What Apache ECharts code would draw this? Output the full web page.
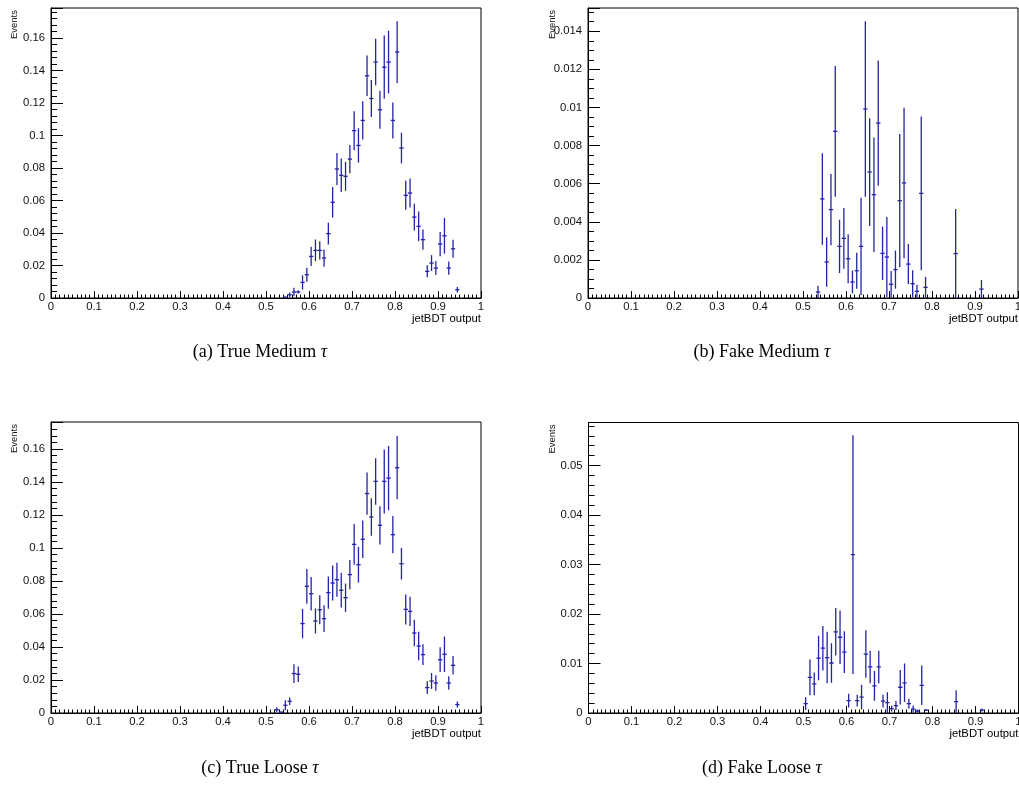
<!DOCTYPE html>
<html>
<head>
<meta charset="utf-8">
<title>jetBDT output</title>
<script src="https://cdn.jsdelivr.net/npm/echarts@6/dist/echarts.min.js"></script>
<style>
  html, body { margin: 0; padding: 0; background: #fff; overflow: hidden; }
  #chart { width: 1019px; height: 798px; }
</style>
</head>
<body>
<div id="chart"></div>
<script>
// Bin width of the jetBDT histograms
const BIN_WIDTH = 0.01;

// x-axis tick labels
const xTicks = ['0', '0.1', '0.2', '0.3', '0.4', '0.5', '0.6', '0.7', '0.8', '0.9', '1'];

// (a) True Medium tau
const trueMediumCenters = [0.545, 0.555, 0.565, 0.575, 0.585, 0.595, 0.605, 0.615, 0.625, 0.635,
  0.645, 0.655, 0.665, 0.675, 0.685, 0.695, 0.705, 0.715, 0.725, 0.735,
  0.745, 0.755, 0.765, 0.775, 0.785, 0.795, 0.805, 0.815, 0.825, 0.835,
  0.845, 0.855, 0.865, 0.875, 0.885, 0.895, 0.905, 0.915, 0.925, 0.935, 0.945];
const trueMediumValues = [0.0005, 0.002, 0.0037, 0.0037, 0.0096, 0.0143, 0.0256, 0.0293, 0.0293, 0.0246,
  0.0396, 0.0589, 0.0794, 0.0755, 0.0749, 0.0855, 0.103, 0.0939, 0.1093, 0.1368,
  0.1228, 0.1452, 0.1159, 0.1421, 0.1452, 0.1093, 0.1514, 0.0923, 0.0632, 0.0646,
  0.0498, 0.0441, 0.0359, 0.0164, 0.0215, 0.0184, 0.0332, 0.0383, 0.0184, 0.0303, 0.0051];
const trueMediumErrors = [0.0003, 0.0014, 0.0026, 0.001, 0.0044, 0.0043, 0.0059, 0.0067, 0.0056, 0.0053,
  0.0067, 0.0094, 0.0099, 0.0103, 0.0089, 0.0087, 0.012, 0.0106, 0.0118, 0.0124,
  0.0114, 0.0143, 0.0117, 0.0194, 0.0193, 0.0111, 0.019, 0.0094, 0.0089, 0.0089,
  0.0082, 0.0092, 0.0062, 0.0037, 0.0049, 0.0043, 0.0075, 0.011, 0.0041, 0.0056, 0.0017];

// (b) Fake Medium tau
const fakeMediumCenters = [0.535, 0.545, 0.555, 0.565, 0.575, 0.585, 0.595, 0.605, 0.615, 0.625,
  0.635, 0.645, 0.655, 0.665, 0.675, 0.685, 0.695, 0.705, 0.715, 0.725,
  0.735, 0.745, 0.755, 0.765, 0.775, 0.785, 0.855, 0.915];
const fakeMediumValues = [0.00031, 0.0052, 0.00189, 0.00464, 0.00875, 0.00271, 0.00313, 0.00206, 0.00084, 0.00143,
  0.00271, 0.00992, 0.00661, 0.00542, 0.00918, 0.00234, 0.00215, 0.00072, 0.00149, 0.00511,
  0.00604, 0.00178, 0.00075, 0.00035, 0.00549, 0.00056, 0.00233, 0.00047];
const fakeMediumErrors = [0.00033, 0.0024, 0.0013, 0.00187, 0.00343, 0.0014, 0.0016, 0.00128, 0.0006, 0.00094,
  0.00255, 0.0046, 0.00283, 0.003, 0.00329, 0.0014, 0.0021, 0.0007, 0.001, 0.0035,
  0.00395, 0.00105, 0.0007, 0.00035, 0.00403, 0.00055, 0.00234, 0.00047];

// (c) True Loose tau
const trueLooseCenters = [0.525, 0.535, 0.545, 0.555, 0.565, 0.575, 0.585, 0.595, 0.605, 0.615,
  0.625, 0.635, 0.645, 0.655, 0.665, 0.675, 0.685, 0.695, 0.705, 0.715,
  0.725, 0.735, 0.745, 0.755, 0.765, 0.775, 0.785, 0.795, 0.805, 0.815,
  0.825, 0.835, 0.845, 0.855, 0.865, 0.875, 0.885, 0.895, 0.905, 0.915,
  0.925, 0.935, 0.945];
const trueLooseValues = [0.002, 0.0005, 0.0047, 0.0071, 0.0239, 0.0235, 0.0542, 0.0768, 0.0723, 0.0558,
  0.0626, 0.0572, 0.073, 0.0788, 0.0808, 0.0744, 0.0699, 0.0839, 0.1022, 0.0899,
  0.1053, 0.133, 0.1188, 0.1404, 0.1138, 0.1404, 0.1424, 0.1081, 0.1487, 0.0905,
  0.0628, 0.0616, 0.0485, 0.0406, 0.0354, 0.0154, 0.0194, 0.0182, 0.0323, 0.0356,
  0.0182, 0.0289, 0.0051];
const trueLooseErrors = [0.0015, 0.0004, 0.003, 0.0023, 0.0057, 0.0047, 0.0089, 0.0105, 0.0101, 0.0076,
  0.0088, 0.0081, 0.0098, 0.0106, 0.0103, 0.0105, 0.0086, 0.0089, 0.0124, 0.0108,
  0.0114, 0.0128, 0.0114, 0.0141, 0.0116, 0.0194, 0.0195, 0.0113, 0.0192, 0.0096,
  0.0091, 0.0089, 0.0081, 0.0086, 0.0063, 0.0039, 0.0048, 0.0047, 0.0075, 0.0108,
  0.0041, 0.0056, 0.0018];

// (d) Fake Loose tau
const fakeLooseCenters = [0.505, 0.515, 0.525, 0.535, 0.545, 0.555, 0.565, 0.575, 0.585, 0.595,
  0.605, 0.615, 0.625, 0.635, 0.645, 0.655, 0.665, 0.675, 0.685, 0.695,
  0.705, 0.715, 0.725, 0.735, 0.745, 0.755, 0.765, 0.775, 0.785, 0.855, 0.915];
const fakeLooseValues = [0.0019, 0.0072, 0.0059, 0.0111, 0.0131, 0.0112, 0.0101, 0.0164, 0.0153, 0.0123,
  0.0025, 0.032, 0.0025, 0.0032, 0.0119, 0.0093, 0.0055, 0.0093, 0.0024, 0.0021,
  0.0009, 0.0015, 0.0052, 0.0061, 0.0019, 0.0008, 0.0004, 0.0056, 0.0006, 0.0023, 0.0006];
const fakeLooseErrors = [0.0013, 0.0036, 0.0023, 0.0045, 0.0045, 0.0052, 0.004, 0.0048, 0.0054, 0.0042,
  0.0014, 0.0241, 0.0012, 0.0025, 0.0048, 0.0033, 0.003, 0.0033, 0.0013, 0.0021,
  0.0006, 0.0009, 0.0035, 0.0039, 0.001, 0.0007, 0.0003, 0.004, 0.0002, 0.0023, 0.0003];

// Panel captions
const captions = ['(a) True Medium ', '(b) Fake Medium ', '(c) True Loose ', '(d) Fake Loose '];

// Per-panel y ranges and label spacing
const yMax = [0.1785, 0.01522, 0.1764, 0.05869];
const yInterval = [0.02, 0.002, 0.02, 0.01];
const yMinorSplit = [5, 4, 5, 5];

const panels = [
  { centers: trueMediumCenters, values: trueMediumValues, errors: trueMediumErrors },
  { centers: fakeMediumCenters, values: fakeMediumValues, errors: fakeMediumErrors },
  { centers: trueLooseCenters, values: trueLooseValues, errors: trueLooseErrors },
  { centers: fakeLooseCenters, values: fakeLooseValues, errors: fakeLooseErrors }
];

// Layout of the four pads
const pads = [
  { left: 51, top: 8, width: 430, height: 290, titleX: 14, capX: 260, capY: 352 },
  { left: 588, top: 8, width: 430, height: 290, titleX: 552, capX: 762, capY: 352 },
  { left: 51, top: 422, width: 430, height: 291, titleX: 14, capX: 260, capY: 768 },
  { left: 588.5, top: 422.5, width: 430, height: 290.5, titleX: 552, capX: 762, capY: 768 }
];

const MARK_COLOR = '#2424a6';
const SANS = '"Liberation Sans", Arial, Helvetica, sans-serif';
const SERIF = '"Liberation Serif", "Times New Roman", serif';

// Error bar plus horizontal bin-width marker, drawn through the axis scales
function renderErrorBar(params, api) {
  const x = api.value(0);
  const y = api.value(1);
  const e = api.value(2);
  const lo = api.coord([x, Math.max(0, y - e)]);
  const hi = api.coord([x, y + e]);
  const left = api.coord([x - BIN_WIDTH / 2, y]);
  const right = api.coord([x + BIN_WIDTH / 2, y]);
  const style = { stroke: MARK_COLOR, lineWidth: 1.3 };
  return {
    type: 'group',
    children: [
      { type: 'line', shape: { x1: lo[0], y1: lo[1], x2: hi[0], y2: hi[1] }, style: style },
      { type: 'line', shape: { x1: left[0], y1: left[1], x2: right[0], y2: right[1] }, style: style }
    ]
  };
}

const grid = pads.map(p => ({
  left: p.left, top: p.top, width: p.width, height: p.height,
  show: true, borderColor: '#000', borderWidth: 1, backgroundColor: '#fff',
  containLabel: false, outerBoundsMode: 'none'
}));

const xAxis = pads.map((p, i) => ({
  type: 'value', gridIndex: i, min: 0, max: 1, interval: 0.1,
  name: 'jetBDT output', nameLocation: 'end', nameGap: 0,
  nameTextStyle: { fontFamily: SANS, fontSize: 11.3, color: '#000', align: 'right', verticalAlign: 'top', padding: [15, 0, 0, 0] },
  axisLine: { show: true, lineStyle: { color: '#000', width: 1 } },
  axisTick: { show: true, inside: true, length: 7, lineStyle: { color: '#000', width: 1 } },
  minorTick: { show: true, splitNumber: 10, length: 3.5, lineStyle: { color: '#000', width: 1 } },
  splitLine: { show: false },
  axisLabel: {
    fontFamily: SANS, fontSize: 11.3, color: '#111', margin: 3,
    formatter: v => xTicks[Math.round(v * 10)]
  }
}));

const yAxis = pads.map((p, i) => ({
  type: 'value', gridIndex: i, min: 0, max: yMax[i], interval: yInterval[i],
  axisLine: { show: true, lineStyle: { color: '#000', width: 1 } },
  axisTick: { show: true, inside: true, length: 12, lineStyle: { color: '#000', width: 1 } },
  minorTick: { show: true, splitNumber: yMinorSplit[i], length: 6, lineStyle: { color: '#000', width: 1 } },
  splitLine: { show: false },
  axisLabel: { fontFamily: SANS, fontSize: 11.3, color: '#111', margin: 6, showMaxLabel: false }
}));

const series = panels.map((pd, i) => ({
  type: 'custom', xAxisIndex: i, yAxisIndex: i, clip: true,
  renderItem: renderErrorBar,
  encode: { x: 0, y: 1 },
  data: pd.centers.map((c, k) => [c, pd.values[k], pd.errors[k]])
}));

const graphic = [];
pads.forEach((p, i) => {
  graphic.push({
    type: 'text', x: p.titleX, y: p.top + 2, rotation: Math.PI / 2,
    style: { text: 'Events', fontFamily: SANS, fontSize: 9.5, fill: '#111', align: 'right', verticalAlign: 'middle' }
  });
  graphic.push({
    type: 'text', x: p.capX, y: p.capY,
    style: {
      text: captions[i] + '{t|τ}',
      fontFamily: SERIF, fontSize: 18, fill: '#000', align: 'center', verticalAlign: 'middle',
      rich: { t: { fontFamily: SERIF, fontSize: 18, fontStyle: 'italic', fill: '#000' } }
    }
  });
});

const chart = echarts.init(document.getElementById('chart'), null, { renderer: 'canvas' });
chart.setOption({
  animation: false,
  backgroundColor: '#fff',
  grid: grid,
  xAxis: xAxis,
  yAxis: yAxis,
  series: series,
  graphic: graphic
});
</script>
</body>
</html>
